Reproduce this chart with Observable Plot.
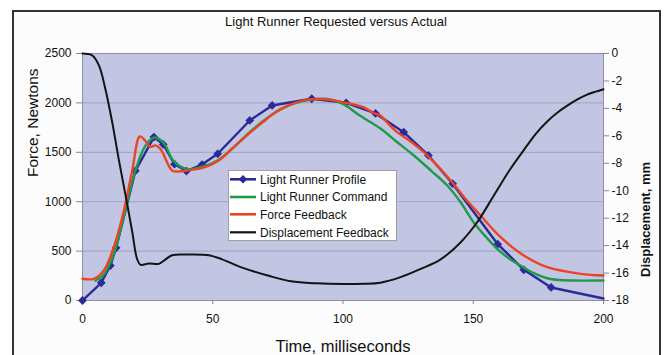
<!DOCTYPE html>
<html><head><meta charset="utf-8">
<script src="https://cdn.jsdelivr.net/npm/d3@7"></script>
<script src="https://cdn.jsdelivr.net/npm/@observablehq/plot@0.6"></script>
<style>
html,body{margin:0;padding:0;background:#fff;}
#wrap{position:relative;width:666px;height:355px;overflow:hidden;font-family:"Liberation Sans",Arial,sans-serif;background:#fff;}
#inner{position:absolute;left:12px;top:10px;width:649px;height:360px;background:#fcfcfc;}
#chart{position:absolute;left:0;top:0;}
#border{position:absolute;left:12px;top:10px;width:649px;height:360px;border:2.5px solid #333;box-sizing:border-box;}
#legend{position:absolute;left:228px;top:170px;width:169px;height:71px;background:#fff;border:1px solid #a0a0a0;box-sizing:border-box;}
</style>
</head><body>
<div id="wrap"><div id="inner"></div><div id="chart"></div><div id="border"></div><div id="legend"></div></div>
<script>
// ---- data ----
const timeTicks = [0, 50, 100, 150, 200];
const forceTicks = [0, 500, 1000, 1500, 2000, 2500];
const dispTicks = [-18, -16, -14, -12, -10, -8, -6, -4, -2, 0];

const profileT = [0, 7.2, 10.7, 12.9, 20.3, 27.4, 31.0, 35.3, 39.9, 45.9, 51.9, 64.2, 72.8, 88.0, 101.2, 112.5, 123.3, 132.8, 142.1, 159.4, 169.4, 179.9, 200];
const profileF = [0, 179, 354, 533, 1312, 1654, 1580, 1380, 1310, 1376, 1485, 1822, 1974, 2042, 2001, 1893, 1704, 1468, 1182, 570, 311, 132, 20];

const commandT = [5, 8, 12, 16, 20, 24, 27.5, 31, 35, 40, 46, 52, 58, 64, 70, 76, 82, 88, 94, 100, 106, 114.4, 120, 127.2, 134, 140, 145, 150.2, 155, 159.2, 164, 168.1, 173, 178.4, 183, 188, 200];
const commandF = [200, 255, 470, 870, 1290, 1560, 1650, 1600, 1410, 1330, 1355, 1420, 1550, 1700, 1830, 1935, 2000, 2035, 2040, 1990, 1880, 1740, 1620, 1468, 1310, 1164, 1000, 790, 640, 523, 420, 354, 280, 225, 207, 202, 202];

const forceT = [0, 4.3, 8.2, 12, 15.9, 19.1, 22.0, 24, 26.1, 28, 30, 34.4, 37, 41, 45.9, 52.3, 58, 63.8, 69, 74.1, 80, 86, 90, 95, 100, 104, 108, 112, 114.4, 117, 120.8, 126, 131, 136, 141.9, 147, 152.8, 160.5, 169.4, 178.4, 191.2, 200];
const forceF = [220, 220, 304, 540, 911, 1316, 1660, 1620, 1555, 1570, 1530, 1316, 1306, 1320, 1339, 1417, 1550, 1687, 1800, 1906, 1985, 2030, 2040, 2032, 2005, 1985, 1955, 1895, 1872, 1800, 1704, 1610, 1501, 1370, 1197, 1030, 860, 641, 455, 337, 270, 253];

const dispT = [0, 2, 3.8, 6.3, 8.8, 11.4, 13.9, 16.5, 19.1, 21.0, 22.3, 25.5, 29.3, 31.9, 34.4, 40, 48.5, 53.6, 61.3, 71.5, 80, 90, 100, 108, 114.4, 122.1, 129.8, 137.5, 145.2, 151.5, 157.9, 164.3, 170.7, 174, 178.4, 182, 186.1, 190, 193.7, 197, 200];
const dispMM = [0, -0.03, -0.15, -0.87, -2.6, -5.0, -7.7, -10.3, -13.0, -15.0, -15.4, -15.3, -15.33, -15.0, -14.7, -14.65, -14.7, -15.0, -15.6, -16.2, -16.6, -16.75, -16.8, -16.78, -16.7, -16.3, -15.7, -15.0, -13.75, -12.3, -10.35, -8.4, -6.7, -5.85, -4.95, -4.35, -3.8, -3.35, -3.0, -2.78, -2.6];

const seriesNames = ["Light Runner Profile", "Light Runner Command", "Force Feedback", "Displacement Feedback"];
const seriesColors = ["#2a2a98", "#1f9a4a", "#ea4424", "#141414"];

// ---- helpers ----
const toF = d => (d + 18) * 2500 / 18;
const profile = profileT.map((t, i) => ({t, f: profileF[i]}));
const command = commandT.map((t, i) => ({t, f: commandF[i]}));
const force = forceT.map((t, i) => ({t, f: forceF[i]}));
const disp = dispT.map((t, i) => ({t, f: toF(dispMM[i])}));
const diamond = {draw(ctx, size) { const r = Math.sqrt(size / 2); ctx.moveTo(0, -r); ctx.lineTo(r, 0); ctx.lineTo(0, r); ctx.lineTo(-r, 0); ctx.closePath(); }};
const font = "'Liberation Sans', Arial, sans-serif";

const chart = Plot.plot({
  width: 666, height: 355,
  marginLeft: 82, marginRight: 63, marginTop: 53, marginBottom: 55,
  x: {domain: [0, 200]},
  y: {domain: [0, 2500]},
  style: {fontFamily: font, fontSize: "12px", background: "transparent", color: "#111", overflow: "visible"},
  marks: [
    Plot.frame({fill: "#c3c6e3", stroke: null}),
    Plot.ruleY(forceTicks.filter(v => v > 0 && v < 2500), {stroke: "#9ea3c6", strokeWidth: 1}),
    Plot.frame({stroke: "#8d90a8"}),
    Plot.axisX(timeTicks, {tickSize: 4, tickPadding: 10, stroke: "#888", fill: "#111", label: null, fontSize: 12, tickFormat: d => String(d)}),
    Plot.axisY(forceTicks, {tickSize: 6, tickPadding: 5, stroke: "#888", fill: "#111", label: null, fontSize: 12, tickFormat: d => String(d)}),
    Plot.axisY(dispTicks.map(toF), {anchor: "right", tickSize: 5, tickPadding: 3, stroke: "#888", fill: "#111", label: null, fontSize: 12,
      tickFormat: v => { const d = Math.round(v * 18 / 2500 - 18); return d === 0 ? "0" : String(d); }}),
    Plot.line(profile, {x: "t", y: "f", stroke: seriesColors[0], strokeWidth: 2.4}),
    Plot.dot(profile.slice(0, -1), {x: "t", y: "f", symbol: diamond, r: 3.5, fill: seriesColors[0], stroke: null}),
    Plot.line(command, {x: "t", y: "f", stroke: seriesColors[1], strokeWidth: 2.4, curve: "catmull-rom"}),
    Plot.line(force, {x: "t", y: "f", stroke: seriesColors[2], strokeWidth: 2.4, curve: "catmull-rom"}),
    Plot.line(disp, {x: "t", y: "f", stroke: seriesColors[3], strokeWidth: 2, curve: "catmull-rom"}),
    Plot.text(["Light Runner Requested versus Actual"], {frameAnchor: "top", dy: -32, dx: -7, lineAnchor: "middle", fontSize: 13, fill: "#111"}),
    Plot.text(["Time, milliseconds"], {frameAnchor: "bottom", dy: 46, lineAnchor: "middle", fontSize: 16.5, fill: "#111"}),
    Plot.text(["Force, Newtons"], {frameAnchor: "left", dx: -49, rotate: -90, lineAnchor: "middle", fontSize: 15.5, fill: "#111"}),
    Plot.text(["Displacement, mm"], {frameAnchor: "right", dx: 42, dy: -15, rotate: -90, lineAnchor: "middle", fontSize: 13, fontWeight: "bold", fill: "#111"})
  ]
});
document.getElementById("chart").appendChild(chart);

// ---- legend ----
const lg = document.getElementById("legend");
const rowsY = [9.3, 27, 44.3, 62.3];
let svg = `<svg width="169" height="71" style="position:absolute;left:-1px;top:-1px;font-family:${font.replace(/'/g, "")};font-size:12px">`;
seriesNames.forEach((name, i) => {
  const y = rowsY[i];
  svg += `<line x1="2" x2="28" y1="${y}" y2="${y}" stroke="${seriesColors[i]}" stroke-width="${i === 3 ? 2.2 : 2.6}"/>`;
  if (i === 0) svg += `<path d="M15,${y - 4.2}L19.2,${y}L15,${y + 4.2}L10.8,${y}Z" fill="${seriesColors[0]}"/>`;
  svg += `<text x="32" y="${y}" dy="0.35em" fill="#111">${name}</text>`;
});
svg += `</svg>`;
lg.innerHTML = svg;
</script>
</body></html>
